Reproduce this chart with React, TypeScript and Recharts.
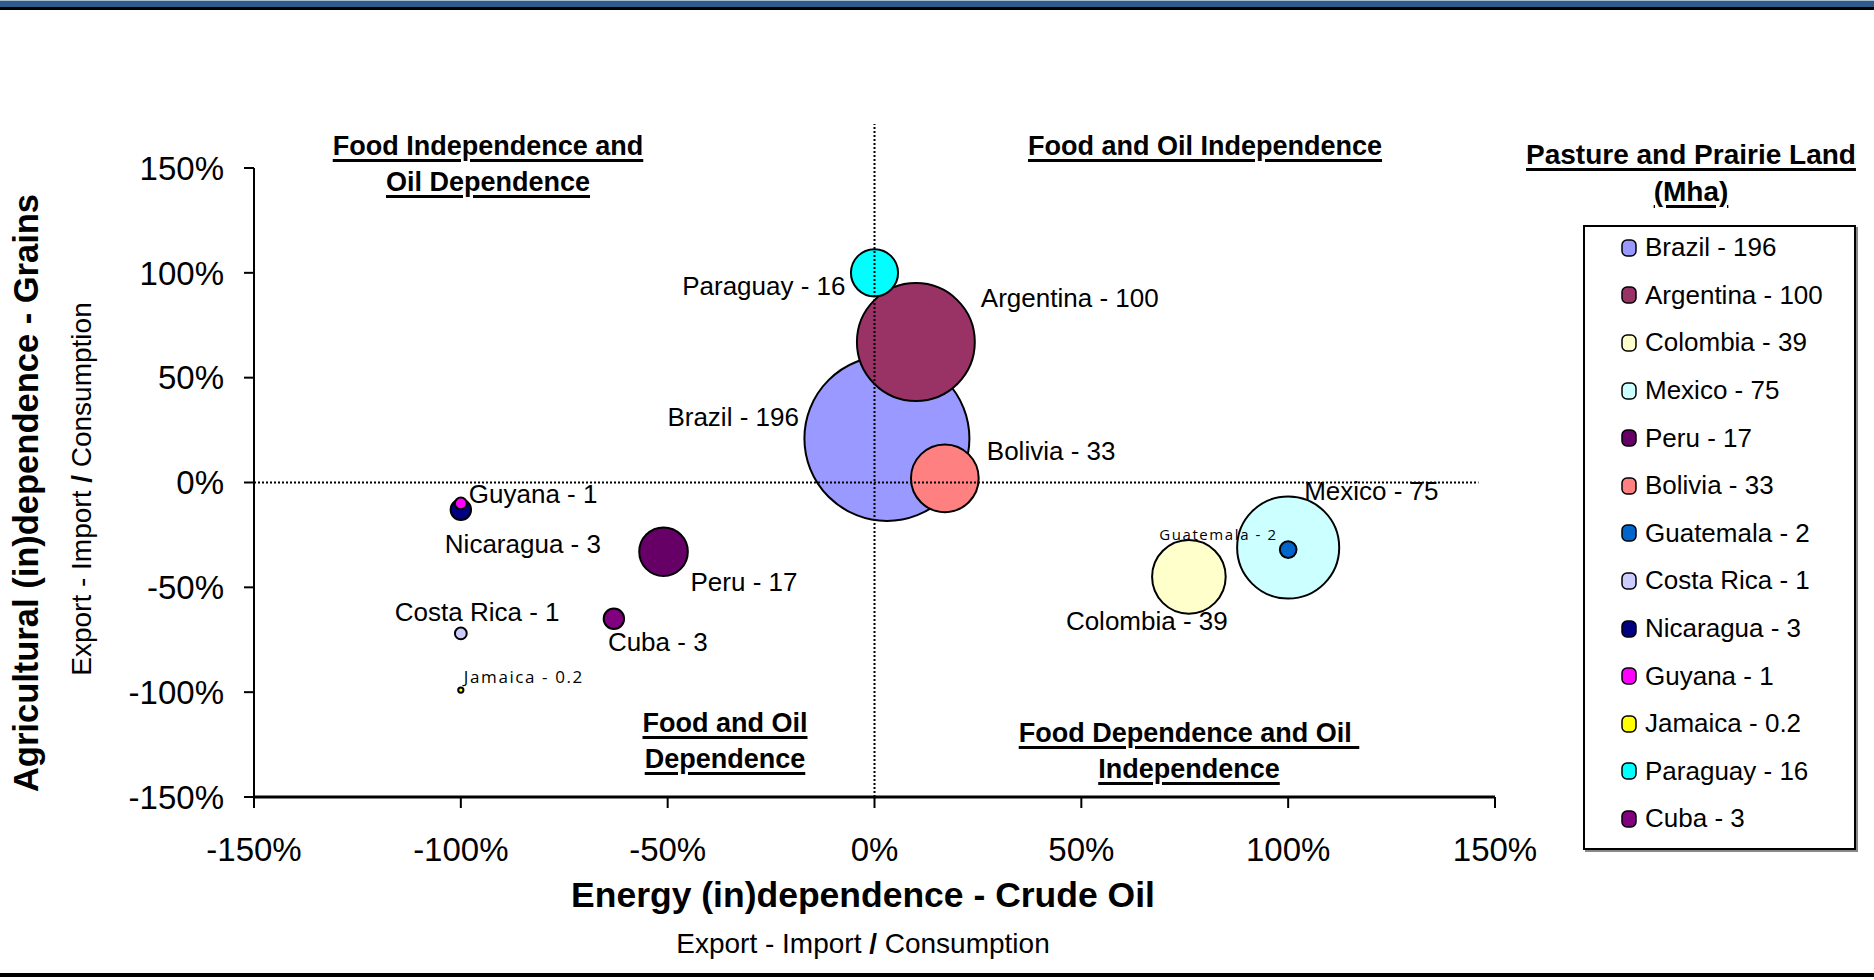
import React from 'react';
import { ScatterChart, Scatter, XAxis, YAxis, ZAxis, ReferenceLine, Legend } from 'recharts';

// pasture & prairie land by country, bubble area = Mha
const countries = ['Brazil', 'Argentina', 'Colombia', 'Mexico', 'Peru', 'Bolivia', 'Guatemala', 'Costa Rica', 'Nicaragua', 'Guyana', 'Jamaica', 'Paraguay', 'Cuba'];
const pastureMha = [196, 100, 39, 75, 17, 33, 2, 1, 3, 1, 0.2, 16, 3];
const oilBalance = [3, 10, 76, 100, -51, 17, 100, -100, -100, -100, -100, 0, -63];
const grainBalance = [21, 67, -45, -31, -33, 2, -32, -72, -13, -10, -99, 100, -65];
const axisTicks = [-150, -100, -50, 0, 50, 100, 150];

// zero cross lines (drawn over the bubbles)
const zeroOilLine = [{ x: 0, y: -150 }, { x: 0, y: 171 }];
const zeroGrainLine = [{ x: -150, y: 0 }, { x: 146, y: 0 }];

const bubbleColors = ['#9999FF', '#993366', '#FFFFCC', '#CCFFFF', '#660066', '#FF8080', '#0066CC', '#CCCCFF', '#000080', '#FF00FF', '#FFFF00', '#00FFFF', '#800080'];

// label placement relative to bubble centre
const labelSpots: Record<string, { dx: number; dy: number; anchor: 'start' | 'end'; small?: number }> = {
  Brazil: { dx: -88, dy: -21, anchor: 'end' },
  Argentina: { dx: 65, dy: -44, anchor: 'start' },
  Colombia: { dx: -123, dy: 44, anchor: 'start' },
  Mexico: { dx: 16, dy: -56, anchor: 'start' },
  Peru: { dx: 27, dy: 30, anchor: 'start' },
  Bolivia: { dx: 42, dy: -27, anchor: 'start' },
  Guatemala: { dx: -129, dy: -16, anchor: 'start', small: 15 },
  'Costa Rica': { dx: -66, dy: -21, anchor: 'start' },
  Nicaragua: { dx: -16, dy: 34, anchor: 'start' },
  Guyana: { dx: 8, dy: -9, anchor: 'start' },
  Jamaica: { dx: 3, dy: -14, anchor: 'start', small: 17 },
  Paraguay: { dx: -29, dy: 13, anchor: 'end' },
  Cuba: { dx: -6, dy: 23, anchor: 'start' },
};

const FONT = '"Liberation Sans", Arial, sans-serif';
const pct = (v: number) => `${v}%`;
const dotted = { stroke: '#000', strokeWidth: 2, strokeDasharray: '2 2' };

const series = countries.map((name, i) => ({
  name,
  label: `${name} - ${pastureMha[i]}`,
  color: bubbleColors[i],
  data: [{ x: oilBalance[i], y: grainBalance[i], z: pastureMha[i] }],
}));

const Bubble = (props: any) => {
  const { cx, cy, width, size, color, name, label } = props;
  const r = width ? width / 2 : Math.sqrt((size || 0) / Math.PI);
  const spot = labelSpots[name];
  return (
    <g>
      <circle cx={cx} cy={cy} r={Math.max(r, 1.5)} fill={color} stroke="#000" strokeWidth={2} />
      <text
        x={cx + spot.dx}
        y={cy + spot.dy}
        textAnchor={spot.anchor}
        dominantBaseline="central"
        fontFamily={spot.small ? '"Open Sans", sans-serif' : FONT}
        fontSize={spot.small || 26}
        letterSpacing={spot.small ? 1.6 : 0}
        fill="#000"
      >
        {label}
      </text>
    </g>
  );
};

const underline = { textDecoration: 'underline', textDecorationThickness: 3, textUnderlineOffset: 4, whiteSpace: 'pre' } as const;

const LegendBox = (props: any) => {
  const order = (v: any) => series.findIndex((s) => s.label === v);
  const payload = (props.payload || []).filter((e: any) => order(e.value) >= 0).sort((a: any, b: any) => order(a.value) - order(b.value));
  return (
    <div style={{ fontFamily: FONT, color: '#000' }}>
      <div style={{ textAlign: 'center', fontWeight: 'bold', fontSize: 28, lineHeight: '37px' }}>
        <div><span style={underline}>Pasture and Prairie Land</span></div>
        <div><span style={underline}>(Mha)</span></div>
      </div>
      <div
        style={{
          marginTop: 15,
          marginLeft: 73,
          width: 273,
          height: 625,
          boxSizing: 'border-box',
          border: '2px solid #000',
          boxShadow: '2px 2px 0 #888',
          background: '#fff',
        }}
      >
        <div style={{ marginTop: -3 }}>
          {payload.map((entry: any) => {
            const s = series[order(entry.value)];
            return (
              <div key={entry.value} style={{ height: 47.6, display: 'flex', alignItems: 'center' }}>
                <svg width={16} height={18} style={{ marginLeft: 36, marginRight: 8 }}>
                  <rect x={1} y={1} width={14} height={16} rx={5} fill={s.color} stroke="#000" strokeWidth={1.5} />
                </svg>
                <span style={{ fontSize: 26 }}>{entry.value}</span>
              </div>
            );
          })}
        </div>
      </div>
    </div>
  );
};

const QuadrantTitle = ({ cx, top, lines }: { cx: number; top: number; lines: string[] }) => (
  <div
    style={{
      position: 'absolute',
      left: cx - 300,
      top,
      width: 600,
      textAlign: 'center',
      fontFamily: FONT,
      fontWeight: 'bold',
      fontSize: 27,
      lineHeight: '36px',
      color: '#000',
    }}
  >
    {lines.map((l) => (
      <div key={l}>
        <span style={underline}>{l}</span>
      </div>
    ))}
  </div>
);

export default function App() {
  return (
    <div style={{ position: 'absolute', left: 0, top: 0, width: 1874, height: 980, background: '#fff', overflow: 'hidden' }}>
      <div style={{ position: 'absolute', left: 0, top: 0, width: 1874, height: 1, background: '#a9bdd1' }} />
      <div style={{ position: 'absolute', left: 0, top: 1, width: 1874, height: 6, background: '#2d5d8c' }} />
      <div style={{ position: 'absolute', left: 0, top: 7, width: 1874, height: 3, background: '#000' }} />
      <div style={{ position: 'absolute', left: 0, top: 973, width: 1874, height: 4, background: '#000' }} />

      <ScatterChart width={1874} height={980} margin={{ top: 168, right: 379, bottom: 123, left: 154 }}>
        <XAxis
          type="number"
          dataKey="x"
          domain={[-150, 150]}
          ticks={axisTicks}
          interval={0}
          tickFormatter={pct}
          height={60}
          axisLine={{ stroke: '#000', strokeWidth: 3 }}
          tickLine={{ stroke: '#000', strokeWidth: 2 }}
          tickSize={11}
          tickMargin={30}
          tick={{ fill: '#000', fontSize: 33, fontFamily: FONT }}
          allowDataOverflow
        />
        <YAxis
          type="number"
          dataKey="y"
          domain={[-150, 150]}
          ticks={axisTicks}
          interval={0}
          tickFormatter={pct}
          width={100}
          axisLine={{ stroke: '#000', strokeWidth: 2 }}
          tickLine={{ stroke: '#000', strokeWidth: 2 }}
          tickSize={10}
          tickMargin={20}
          tick={{ fill: '#000', fontSize: 33, fontFamily: FONT }}
          allowDataOverflow
        />
        <ZAxis type="number" dataKey="z" domain={[0, 196]} range={[0, 21383]} />
        {series.map((s) => (
          <Scatter
            key={s.name}
            name={s.label}
            data={s.data}
            fill={s.color}
            stroke="#000"
            isAnimationActive={false}
            shape={(p: any) => <Bubble {...p} color={s.color} name={s.name} label={s.label} />}
          />
        ))}
        <ReferenceLine segment={zeroOilLine} {...dotted} ifOverflow="visible" zIndex={700} />
        <ReferenceLine segment={zeroGrainLine} {...dotted} ifOverflow="visible" zIndex={700} />
        <Legend
          layout="vertical"
          align="center"
          verticalAlign="middle"
          content={<LegendBox />}
          wrapperStyle={{ left: 1510, top: 136, width: 362 }}
        />
      </ScatterChart>

      <QuadrantTitle cx={488} top={128} lines={['Food Independence and', 'Oil Dependence']} />
      <QuadrantTitle cx={1205} top={128} lines={['Food and Oil Independence']} />
      <QuadrantTitle cx={725} top={705} lines={['Food and Oil', 'Dependence']} />
      <QuadrantTitle cx={1189} top={715} lines={['Food Dependence and Oil ', 'Independence']} />

      <svg width={1874} height={980} style={{ position: 'absolute', left: 0, top: 0, pointerEvents: 'none' }}>
        <text x={863} y={895} textAnchor="middle" dominantBaseline="central" fontFamily={FONT} fontWeight="bold" fontSize={35.5} fill="#000">
          Energy (in)dependence - Crude Oil
        </text>
        <text x={863} y={943} textAnchor="middle" dominantBaseline="central" fontFamily={FONT} fontSize={28} fill="#000">
          Export - Import <tspan fontWeight="bold">/</tspan> Consumption
        </text>
        <text transform="translate(26,493) rotate(-90)" textAnchor="middle" dominantBaseline="central" fontFamily={FONT} fontWeight="bold" fontSize={34.5} fill="#000">
          Agricultural (in)dependence - Grains
        </text>
        <text transform="translate(81,489) rotate(-90)" textAnchor="middle" dominantBaseline="central" fontFamily={FONT} fontSize={28} fill="#000">
          Export - Import <tspan fontWeight="bold">/</tspan> Consumption
        </text>
      </svg>
    </div>
  );
}
